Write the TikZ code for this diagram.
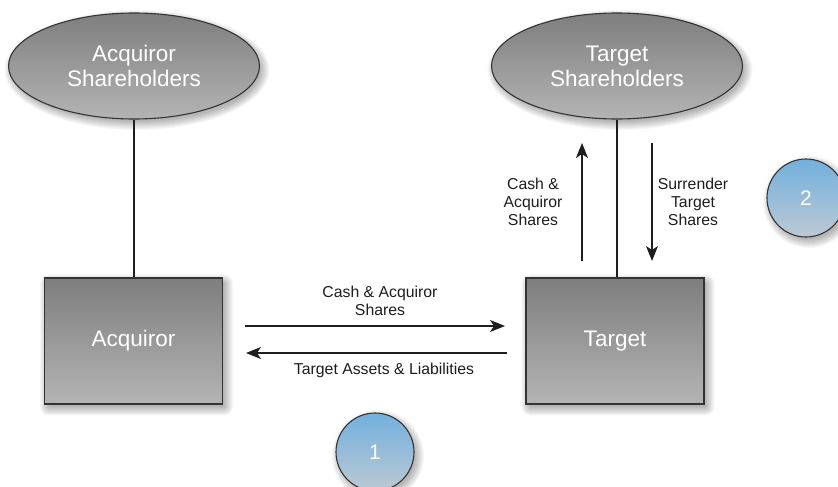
\documentclass[tikz,border=0pt]{standalone}
\usepackage{fontspec}
\setmainfont{Liberation Sans}
\usetikzlibrary{shapes.geometric,arrows.meta}
\pgfdeclarelayer{bg}
\pgfsetlayers{bg,main}
\definecolor{boxtop}{HTML}{7E7E7E}
\definecolor{boxbot}{HTML}{B4B4B4}
\definecolor{circtop}{HTML}{72B0DE}
\definecolor{circbot}{HTML}{BCC9D3}
\definecolor{edgecol}{HTML}{333333}
\definecolor{linecol}{HTML}{1E1E1E}
\tikzset{
  shapebase/.style={draw=edgecol, line width=1.1pt, top color=boxtop, bottom color=boxbot,
    text=white, font=\fontsize{22.5}{25}\selectfont, align=center, inner sep=0pt},
  holder/.style={shapebase, ellipse, minimum width=251pt, minimum height=106pt},
  party/.style={shapebase, rectangle, minimum width=178pt, minimum height=126pt},
  stepcirc/.style={shapebase, circle, minimum size=78pt, top color=circtop, bottom color=circbot,
    font=\fontsize{21}{24}\selectfont},
  flow/.style={draw=linecol, line width=1.5pt, -{Stealth[length=15pt,width=12pt,inset=4pt]}},
  link/.style={draw=linecol, line width=1.4pt},
  lbl/.style={font=\fontsize{15.8}{18}\selectfont, align=center, text=linecol, inner sep=0pt},
  shade layer/.style={fill=black, fill opacity=0.03}
}
\begin{document}
\begin{tikzpicture}[x=1pt,y=-1pt]
\clip (0,0) rectangle (838,487);
\begin{pgfonlayer}{bg}
\fill[white] (0,0) rectangle (838,487);
\end{pgfonlayer}

\node[holder] (ash) at (134,66) {Acquiror\\Shareholders};
\node[holder] (tsh) at (617,66) {Target\\Shareholders};
\node[party] (acq) at (133.5,341) {Acquiror};
\node[party] (tgt) at (615,341) {Target};
\node[stepcirc] (one) at (375,452) {1};
\node[stepcirc] (two) at (806,198) {2};

\begin{pgfonlayer}{bg}
\foreach \e in {-2,...,7}{
  \foreach \n in {acq,tgt}{
    \fill[shade layer, rounded corners=\e pt+2pt]
      ([shift={(3-\e,4-\e)}]\n.north west) rectangle ([shift={(3+\e,4+\e)}]\n.south east);
  }
  \foreach \n in {ash,tsh}{
    \fill[shade layer] ([shift={(3,4)}]\n.center) ellipse [x radius=125.5+\e, y radius=53+\e];
  }
  \foreach \n in {one,two}{
    \fill[shade layer] ([shift={(3,4)}]\n.center) circle [radius=39+\e];
  }
}
\end{pgfonlayer}

\draw[link] (ash.south) -- (ash.south |- acq.north);
\draw[link] (tsh.south) -- (tsh.south |- tgt.north);

\coordinate (r1) at (245,326);
\coordinate (r2) at (505,326);
\coordinate (l1) at (507,353);
\coordinate (l2) at (246,353);
\draw[flow] (r1) -- (r2);
\draw[flow] (l1) -- (l2);

\coordinate (u1) at (582,261);
\coordinate (u2) at (582,143);
\coordinate (d1) at (652,143);
\coordinate (d2) at (652,261);
\draw[flow] (u1) -- (u2);
\draw[flow] (d1) -- (d2);

\node[lbl] (lcash) at (380,301) {Cash \& Acquiror\\Shares};
\node[lbl] (lassets) at (384,370) {Target Assets \& Liabilities};
\node[lbl] (lcash2) at (533,202) {Cash \&\\Acquiror\\Shares};
\node[lbl] (lsurr) at (693,202) {Surrender\\Target\\Shares};
\end{tikzpicture}
\end{document}
